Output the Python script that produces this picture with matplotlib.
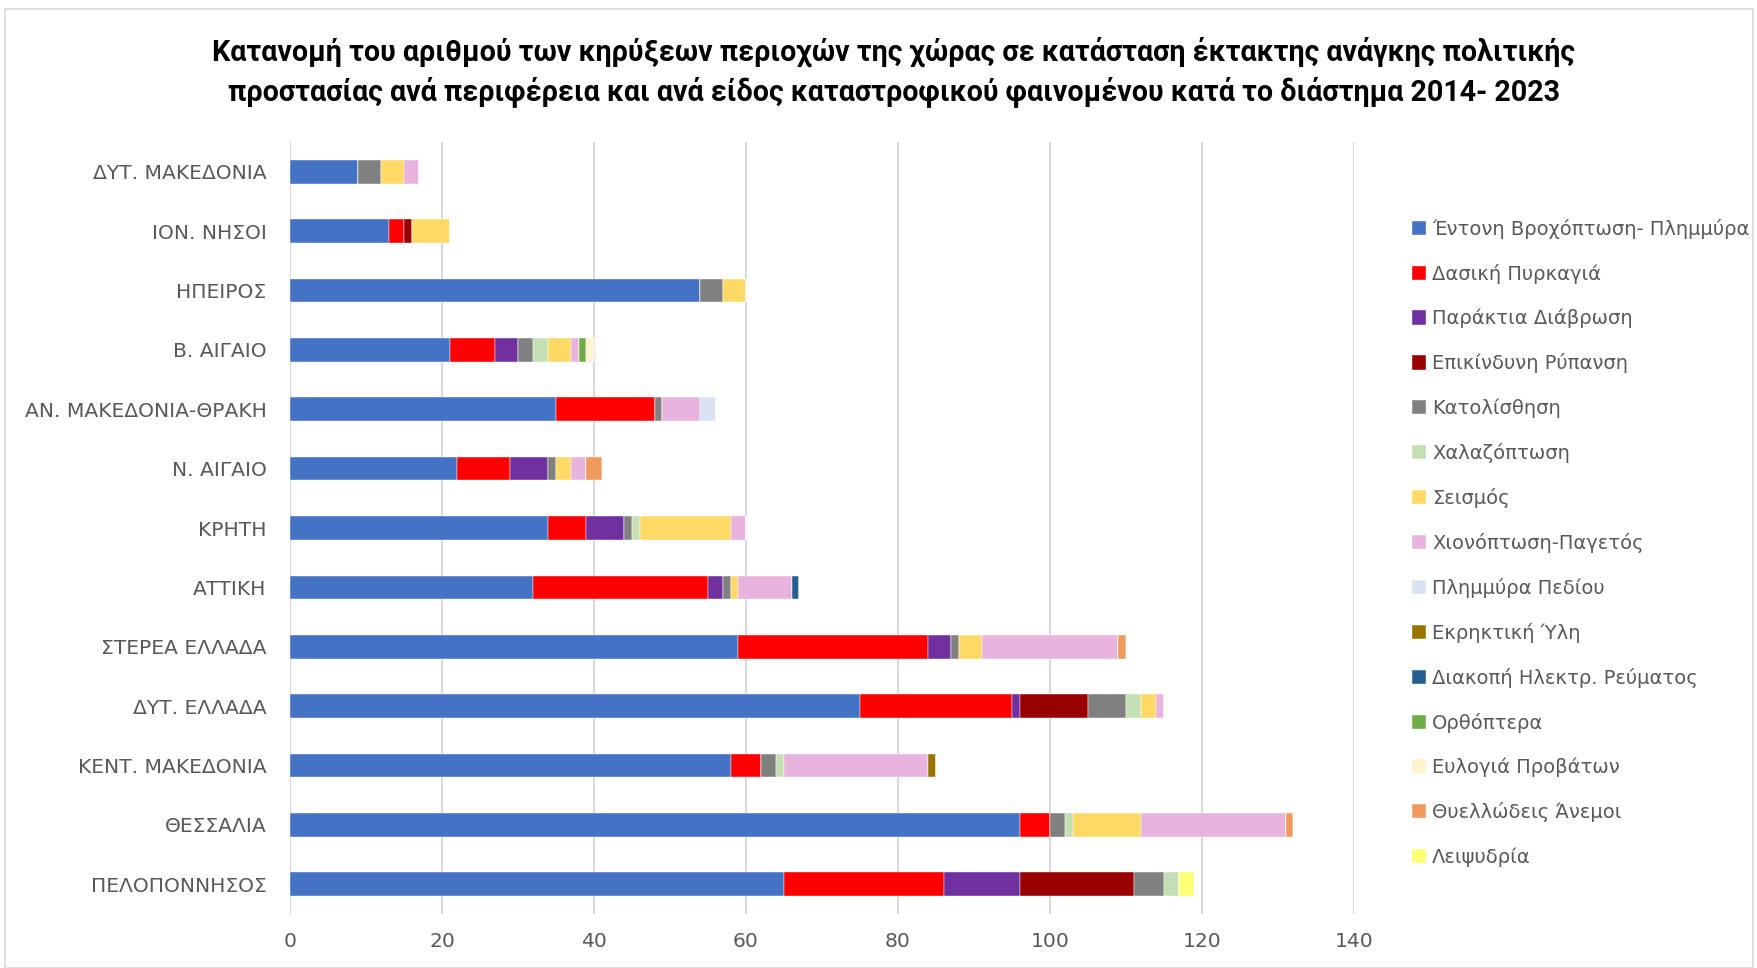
import matplotlib.pyplot as plt
from matplotlib.patches import Rectangle

regions = ['ΔΥΤ. ΜΑΚΕΔΟΝΙΑ', 'ΙΟΝ. ΝΗΣΟΙ', 'ΗΠΕΙΡΟΣ', 'Β. ΑΙΓΑΙΟ',
           'ΑΝ. ΜΑΚΕΔΟΝΙΑ-ΘΡΑΚΗ', 'Ν. ΑΙΓΑΙΟ', 'ΚΡΗΤΗ', 'ΑΤΤΙΚΗ',
           'ΣΤΕΡΕΑ ΕΛΛΑΔΑ', 'ΔΥΤ. ΕΛΛΑΔΑ', 'ΚΕΝΤ. ΜΑΚΕΔΟΝΙΑ', 'ΘΕΣΣΑΛΙΑ',
           'ΠΕΛΟΠΟΝΝΗΣΟΣ']

# one list per hazard, values in the order of regions above
rain_flood   = [9, 13, 54, 21, 35, 22, 34, 32, 59, 75, 58, 96, 65]
forest_fire  = [0, 2, 0, 6, 13, 7, 5, 23, 25, 20, 4, 4, 21]
coastal      = [0, 0, 0, 3, 0, 5, 5, 2, 3, 1, 0, 0, 10]
pollution    = [0, 1, 0, 0, 0, 0, 0, 0, 0, 9, 0, 0, 15]
landslide    = [3, 0, 3, 2, 1, 1, 1, 1, 1, 5, 2, 2, 4]
hail         = [0, 0, 0, 2, 0, 0, 1, 0, 0, 2, 1, 1, 2]
earthquake   = [3, 5, 3, 3, 0, 2, 12, 1, 3, 2, 0, 9, 0]
snow_frost   = [2, 0, 0, 1, 5, 2, 2, 7, 18, 1, 19, 19, 0]
plain_flood  = [0, 0, 0, 0, 2, 0, 0, 0, 0, 0, 0, 0, 0]
explosive    = [0, 0, 0, 0, 0, 0, 0, 0, 0, 0, 1, 0, 0]
power_cut    = [0, 0, 0, 0, 0, 0, 0, 1, 0, 0, 0, 0, 0]
locusts      = [0, 0, 0, 1, 0, 0, 0, 0, 0, 0, 0, 0, 0]
sheep_pox    = [0, 0, 0, 1, 0, 0, 0, 0, 0, 0, 0, 0, 0]
storm_winds  = [0, 0, 0, 0, 0, 2, 0, 0, 1, 0, 0, 1, 0]
drought      = [0, 0, 0, 0, 0, 0, 0, 0, 0, 0, 0, 0, 2]

series = [
    ('Έντονη Βροχόπτωση- Πλημμύρα', rain_flood, '#4472C4'),
    ('Δασική Πυρκαγιά', forest_fire, '#FF0000'),
    ('Παράκτια Διάβρωση', coastal, '#7030A0'),
    ('Επικίνδυνη Ρύπανση', pollution, '#990000'),
    ('Κατολίσθηση', landslide, '#808080'),
    ('Χαλαζόπτωση', hail, '#C5E0B4'),
    ('Σεισμός', earthquake, '#FFD966'),
    ('Χιονόπτωση-Παγετός', snow_frost, '#E8B4DE'),
    ('Πλημμύρα Πεδίου', plain_flood, '#DAE3F3'),
    ('Εκρηκτική Ύλη', explosive, '#997300'),
    ('Διακοπή Ηλεκτρ. Ρεύματος', power_cut, '#255E91'),
    ('Ορθόπτερα', locusts, '#70AD47'),
    ('Ευλογιά Προβάτων', sheep_pox, '#FFF2CC'),
    ('Θυελλώδεις Άνεμοι', storm_winds, '#F19A5E'),
    ('Λειψυδρία', drought, '#FFFF75'),
]

title = ('Κατανομή του αριθμού των κηρύξεων περιοχών της χώρας σε κατάσταση έκτακτης ανάγκης πολιτικής\n'
         'προστασίας ανά περιφέρεια και ανά είδος καταστροφικού φαινομένου κατά το διάστημα 2014- 2023')

plt.rcParams['font.family'] = ['DejaVu Sans']
text_color = '#595959'

fig = plt.figure(figsize=(17.58, 9.68), dpi=100)
ax = fig.add_axes([290 / 1758, 1 - 914 / 968, 1064 / 1758, 772 / 968])

y = list(range(len(regions)))
left = [0] * len(regions)
for name, vals, color in series:
    ax.barh(y, vals, left=left, height=0.4, color=color, label=name,
            edgecolor='white', linewidth=0.3)
    left = [a + b for a, b in zip(left, vals)]

ax.set_ylim(len(regions) - 0.5, -0.5)
ax.set_xlim(0, 140)
ax.set_xticks(range(0, 141, 20))
ax.set_yticks(y)
ax.set_yticklabels(regions)
ax.tick_params(axis='both', length=0, labelsize=14.6, colors=text_color)
ax.tick_params(axis='y', pad=17)
ax.tick_params(axis='x', pad=13)
ax.xaxis.grid(True, color='#D9D9D9', linewidth=1.5)
ax.set_axisbelow(True)
for s in ax.spines.values():
    s.set_visible(False)

leg = fig.legend(loc='upper left', bbox_to_anchor=(1404 / 1758, 1 - 211 / 968),
                 frameon=False, fontsize=14, labelcolor=text_color,
                 handlelength=0.75, handleheight=0.75, handletextpad=0.3,
                 labelspacing=1.285, borderaxespad=0)

fig.text(894 / 1758, 1 - 72 / 968, title, ha='center', va='center',
         fontsize=20.6, fontweight='bold', linespacing=1.4,
         family=['Roboto', 'DejaVu Sans'])

fig.patches.append(Rectangle((5 / 1758, 0), 1 - 10 / 1758, 1 - 9 / 968,
                             transform=fig.transFigure, fill=False,
                             edgecolor='#D9D9D9', linewidth=1.2))

fig.savefig('out.png', dpi=100)
